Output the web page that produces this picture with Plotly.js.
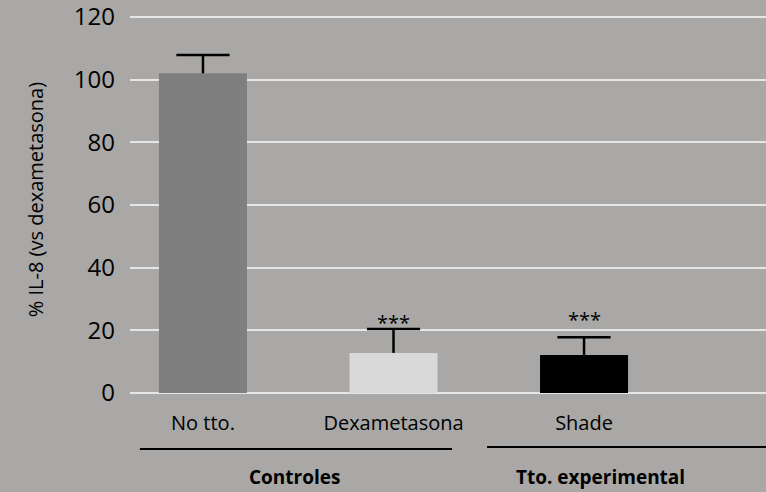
<!DOCTYPE html>
<html>
<head>
<meta charset="utf-8">
<script src="https://cdn.plot.ly/plotly-3.0.1.min.js"></script>
<style>html,body{margin:0;padding:0;background:#a9a8a6;}#chart{width:766px;height:492px;}</style>
</head>
<body>
<div id="chart"></div>
<script>
const categories = ["No tto.", "Dexametasona", "Shade"];
const values = [102, 12.8, 12.1];
const errors = [5.8, 7.6, 5.7];
const barColors = ["#7f7f7f", "#d9d9d9", "#000000"];
const significance = ["", "***", "***"];
const groups = ["Controles", "Tto. experimental"];
const yTicks = [0, 20, 40, 60, 80, 100, 120];

const FONT = "Open Sans, sans-serif";

const bars = {
  type: "bar",
  x: categories,
  y: values,
  width: 0.462,
  marker: {color: barColors, line: {width: 0}},
  error_y: {
    type: "data",
    symmetric: false,
    array: errors,
    arrayminus: errors.map(() => 0),
    color: "#000000",
    thickness: 2.5,
    width: 0
  },
  hoverinfo: "none"
};

// top caps of the error bars
const caps = {
  type: "scatter",
  mode: "markers",
  x: categories,
  y: values.map((v, i) => v + errors[i]),
  marker: {symbol: "line-ew", size: 38, color: "#000", line: {color: "#000", width: 2.5}},
  hoverinfo: "none",
  cliponaxis: false
};

const sigShift = [0, -9, 2];
const annotations = [];
categories.forEach((c, i) => {
  if (significance[i]) {
    annotations.push({
      x: c, y: values[i] + errors[i], xref: "x", yref: "y",
      text: significance[i], showarrow: false,
      yanchor: "bottom", yshift: sigShift[i],
      font: {family: FONT, size: 20, color: "#000"}
    });
  }
});
// y axis title
annotations.push({
  x: (35 - 130) / 636, xref: "paper", xanchor: "center",
  y: 0.51, yref: "paper", yanchor: "middle",
  text: "% IL-8 (vs dexametasona)", textangle: -90, showarrow: false,
  font: {family: FONT, size: 20, color: "#000"}
});

// group labels
const groupCenters = [0.478, 2.084];
groups.forEach((g, i) => {
  annotations.push({
    x: groupCenters[i], xref: "x", y: -0.222, yref: "paper",
    text: "<b>" + g + "</b>", showarrow: false,
    xanchor: "center", yanchor: "middle",
    font: {family: FONT, size: 19, color: "#000"}
  });
});

const shapes = [
  {type: "line", xref: "x", yref: "paper", x0: -0.331, x1: 1.307, y0: -0.148, y1: -0.148,
   line: {color: "#000", width: 2}},
  {type: "line", xref: "x", yref: "paper", x0: 1.491, x1: 2.96, y0: -0.143, y1: -0.143,
   line: {color: "#000", width: 2}}
];

const layout = {
  width: 766, height: 492,
  margin: {l: 130, r: 0, t: 15, b: 99},
  paper_bgcolor: "#a9a8a6",
  plot_bgcolor: "#a9a8a6",
  showlegend: false,
  xaxis: {
    type: "category",
    range: [-0.383, 2.955],
    showgrid: false, zeroline: false, showline: false,
    ticks: "",
    tickfont: {family: FONT, size: 20, color: "#000"},
    ticklabelstandoff: 16
  },
  yaxis: {
    range: [0, 120.6],
    tickmode: "array",
    tickvals: yTicks,
    ticktext: yTicks.map(String),
    showgrid: true, gridcolor: "#e6e6e6", gridwidth: 2,
    zeroline: true, zerolinecolor: "#e6e6e6", zerolinewidth: 2,
    showline: false, ticks: "",
    tickfont: {family: FONT, size: 24, color: "#000"},
    ticklabelstandoff: 14,
    ticklabeloverflow: "allow"
  },
  annotations: annotations,
  shapes: shapes
};

Plotly.newPlot("chart", [bars, caps], layout, {displayModeBar: false, staticPlot: true});
</script>
</body>
</html>
